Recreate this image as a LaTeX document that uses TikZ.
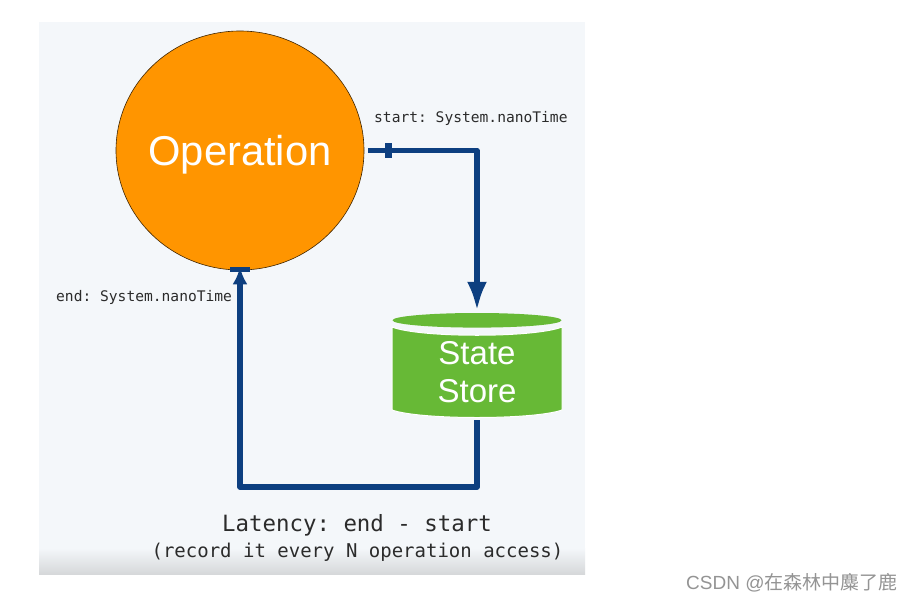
\documentclass[tikz,border=0pt]{standalone}
\usepackage{fontspec}
\setmainfont{Liberation Sans}
\setmonofont{DejaVu Sans Mono}
\newfontfamily\cjkfont{Noto Sans CJK SC}
\usetikzlibrary{arrows.meta,shapes.geometric}
\definecolor{panel}{HTML}{F4F7FA}
\definecolor{panelshade}{HTML}{D6D8DA}
\definecolor{flowblue}{HTML}{0D3F80}
\definecolor{oporange}{HTML}{FF9500}
\definecolor{storegreen}{HTML}{67B936}
\definecolor{monotext}{HTML}{2B2B2B}
\tikzset{
  x=1pt,y=-1pt,
  flow/.style={draw=flowblue,line width=5.6pt,line join=round},
  tickbar/.style={fill=flowblue,inner sep=0pt,minimum width=#1},
  monolabel/.style={font=\ttfamily\fontsize{14.6}{16}\selectfont,text=monotext,inner sep=0pt},
  whitelabel/.style={text=white,inner sep=0pt,align=center},
}
\begin{document}
\begin{tikzpicture}
\useasboundingbox (0,0) rectangle (912,602);
\fill[white] (0,0) rectangle (912,602);
\fill[panel] (39,22) rectangle (585,574);
\shade[top color=panel,bottom color=panelshade] (39,548) rectangle (585,574);

% Operation
\node[ellipse,draw=black!75!oporange,line width=0.6pt,fill=oporange,minimum width=248pt,minimum height=239pt,inner sep=0pt] (op) at (240,150.5) {};
\node[whitelabel,font=\fontsize{41.7}{44}\selectfont] (oplabel) at (240,155) {Operation};

% State store
\node[minimum width=170pt,minimum height=104pt,inner sep=0pt] (store) at (477,365) {};
\fill[storegreen,draw=white,line width=1pt] (392,327) .. controls (420,338) and (534,338) .. (562,327) -- (562,410) .. controls (534,420) and (420,420) .. (392,410) -- cycle;
\fill[storegreen] (477,320.3) ellipse [x radius=84.5,y radius=7.3];
\node[whitelabel,font=\fontsize{33}{38}\selectfont] (storelabel) at (477,372.5) {State\\Store};

% Connectors
\coordinate (corner1) at (store.north |- op.east);
\coordinate (corner2) at (477,487);
\coordinate (corner3) at (op.south |- corner2);
\draw[flow,shorten <=4pt,shorten >=2pt,-{Latex[length=29pt,width=20pt]}] (op.east) -- (corner1) -- (store.north);
\draw[flow,shorten <=3pt,shorten >=-3pt,-{Latex[length=17pt,width=15pt]}] (store.south) -- (corner2) -- (corner3) -- (op.south);
\node[tickbar=7pt,minimum height=15pt] (startbar) at (388,150.5) {};
\node[tickbar=20pt,minimum height=4.5pt] (endbar) at (240,269.5) {};

% Labels
\node[monolabel,anchor=west] (startlabel) at (374,118) {start: System.nanoTime};
\node[monolabel,anchor=west] (endlabel) at (56,297) {end: System.nanoTime};
\node[inner sep=0pt,text=monotext,font=\ttfamily\fontsize{22.4}{24}\selectfont] (latency) at (357,525.5) {Latency: end - start};
\node[inner sep=0pt,text=monotext,font=\ttfamily\fontsize{19}{21}\selectfont] (every) at (357.5,552) {(record it every N operation access)};
\node[inner sep=0pt,anchor=west,text=black!42,font=\fontsize{19}{21}\selectfont] (mark) at (686,583) {CSDN @{\cjkfont 在森林中麋了鹿}};
\end{tikzpicture}
\end{document}
